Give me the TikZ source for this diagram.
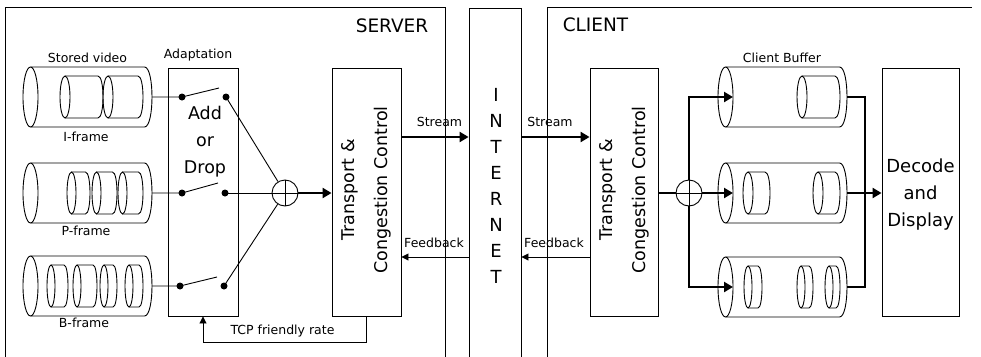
\documentclass[tikz,border=0pt]{standalone}
\usepackage{fontspec}
\setmainfont{DejaVu Sans}
\usetikzlibrary{arrows.meta}
\tikzset{
  thinline/.style={line width=0.9pt},
  thickline/.style={line width=2.8pt},
  thickarrow/.style={line width=2.8pt,-{Triangle[length=9pt,width=10pt]}},
  thinarrow/.style={line width=0.9pt,-{Triangle[length=7pt,width=7pt]}},
  cylline/.style={line width=0.9pt},
  blockbox/.style={draw,line width=0.9pt,minimum height=248pt,inner sep=0pt},
  swdot/.style={circle,fill=black,minimum size=7pt,inner sep=0pt},
  opl/.style={circle,draw,line width=0.9pt,minimum size=26pt,inner sep=0pt},
  smalltext/.style={font=\fontsize{12.5}{15}\selectfont,inner sep=0pt},
  bigtext/.style={font=\fontsize{17.5}{27}\selectfont,inner sep=0pt,align=center},
  titletext/.style={font=\fontsize{18.5}{22}\selectfont,inner sep=0pt}
}
\newcommand\mycyl[5]{%
  \draw[cylline] (#1,#3) ellipse ({#5} and {#4});
  \draw[cylline] (#1,{#3-#4}) -- (#2,{#3-#4}) .. controls ({#2+1.333*#5},{#3-#4}) and ({#2+1.333*#5},{#3+#4}) .. (#2,{#3+#4}) -- (#1,{#3+#4});
}
\begin{document}
\begin{tikzpicture}[x=1pt,y=-1pt]
\useasboundingbox (0,0) rectangle (981,356);
\clip (0,0) rectangle (981,356);
% frames
\draw[thinline] (5,360) -- (5,7) -- (445,7) -- (445,360);
\draw[thinline] (547,360) -- (547,7) -- (972,7);
\node[titletext] (srv) at (392,26) {SERVER};
\node[titletext] (cli) at (595.5,25) {CLIENT};
% internet
\node[draw,line width=0.9pt,minimum width=52pt,minimum height=360pt,inner sep=0pt] (inet) at (495,188) {};
\node[font=\fontsize{18}{26}\selectfont,align=center,inner sep=0pt] (inettxt) at (496,186) {I\\N\\T\\E\\R\\N\\E\\T};
% server cylinders
\mycyl{30.5}{144.5}{97}{30}{7.5}
\mycyl{65}{98}{97}{21}{5}
\mycyl{108}{138}{97}{21}{5}
\mycyl{30.5}{144.5}{193}{30}{7.5}
\mycyl{71.5}{85.5}{193}{21}{4.5}
\mycyl{96.5}{112.5}{193}{21}{4.5}
\mycyl{122.5}{138.5}{193}{21}{4.5}
\mycyl{30.5}{144.5}{286}{30}{7.5}
\mycyl{51}{64}{286}{21}{4}
\mycyl{77}{93}{286}{21}{4}
\mycyl{104}{113}{286}{21}{4}
\mycyl{129}{139}{286}{21}{4}
\coordinate (Iout) at (152,97);
\coordinate (Pout) at (152,193);
\coordinate (Bout) at (152,286);
\node[smalltext] (stv) at (87.5,58) {Stored video};
\node[smalltext] (ifr) at (86,137) {I-frame};
\node[smalltext] (pfr) at (86,231) {P-frame};
\node[smalltext] (bfr) at (84,323) {B-frame};
% adaptation
\node[blockbox,minimum width=70pt] (adapt) at (203,192) {};
\node[smalltext] (adlab) at (198,55) {Adaptation};
\node[bigtext] (addrop) at (205,142) {Add\\or\\Drop};
% switches
\node[swdot] (IL) at (182,97) {};
\node[swdot] (IR) at (226,97) {};
\coordinate (Ia) at (219,88);
\node[swdot] (PL) at (182,193) {};
\node[swdot] (PR) at (225,193) {};
\coordinate (Pa) at (218,183);
\node[swdot] (BL) at (180,286) {};
\node[swdot] (BR) at (224,286) {};
\coordinate (Ba) at (217,277);
\draw[thinline] (Iout) -- (IL.center) -- (Ia);
\draw[thinline] (Pout) -- (PL.center) -- (Pa);
\draw[thinline] (Bout) -- (BL.center) -- (Ba);
\node[opl] (sop) at (285,193) {};
\draw[thinline] (sop.north) -- (sop.south) (sop.west) -- (sop.east);
\draw[thinline] (IR.center) -- (sop);
\draw[thinline] (PR.center) -- (sop);
\draw[thinline] (BR.center) -- (sop);
% server transport
\node[blockbox,minimum width=69pt] (stc) at (366.5,192) {};
\node[bigtext,rotate=90,font=\fontsize{17.5}{33}\selectfont] (stctxt) at (366.5,190) {Transport \&\\Congestion Control};
\draw[thickarrow] (sop.east) -- (sop -| stc.west);
\coordinate (s1) at (0,137);
\coordinate (f1) at (0,257);
\draw[thickarrow] (stc.east |- s1) -- (inet.west |- s1);
\draw[thinarrow] (inet.west |- f1) -- (stc.east |- f1);
\node[smalltext] (sst) at (439.5,122) {Stream};
\node[smalltext] (sfb) at (434,243) {Feedback};
% TCP friendly rate
\draw[thinarrow] (stc.south) -- ++(0,26) -| (adapt.south);
\node[smalltext] (tcp) at (282.5,331) {TCP friendly rate};
% client transport
\node[blockbox,minimum width=68pt] (ctc) at (624,192) {};
\node[bigtext,rotate=90,font=\fontsize{17.5}{33}\selectfont] (ctctxt) at (624,190) {Transport \&\\Congestion Control};
\draw[thickarrow] (inet.east |- s1) -- (ctc.west |- s1);
\draw[thinarrow] (ctc.west |- f1) -- (inet.east |- f1);
\node[smalltext] (cst) at (550,122) {Stream};
\node[smalltext] (cfb) at (554,243) {Feedback};
% client buffer
\mycyl{725.5}{839.5}{97}{30}{7.5}
\mycyl{802}{835}{97}{21}{5}
\mycyl{725.5}{839.5}{193}{30}{7.5}
\mycyl{748}{765}{193}{21}{5}
\mycyl{818}{835}{193}{21}{5}
\mycyl{725.5}{839.5}{287}{30}{7.5}
\mycyl{748}{758}{287}{21}{4}
\mycyl{801}{809}{287}{21}{4}
\mycyl{829}{836}{287}{21}{4}
\node[smalltext] (cbuf) at (782,58) {Client Buffer};
\coordinate (ctA) at (733,97);
\coordinate (cmA) at (733,193);
\coordinate (cbA) at (733,287);
\coordinate (ctR) at (847,97);
\coordinate (cmR) at (847,193);
\coordinate (cbR) at (847,287);
\node[opl] (cop) at (689,193) {};
\draw[thinline] (cop.north) -- (cop.south) (cop.west) -- (cop.east);
\draw[thickline] (ctc.east |- cop) -- (cop.west);
\draw[thickarrow] (cop.east) -- (cmA);
\draw[thickarrow] (cop.north) -- (cop.north |- ctA) -- (ctA);
\draw[thickarrow] (cop.south) -- (cop.south |- cbA) -- (cbA);
% decode
\node[blockbox,minimum width=77pt] (dec) at (920.5,192) {};
\node[bigtext,font=\fontsize{18}{27}\selectfont] (dectxt) at (920.5,195) {Decode\\and\\Display};
\draw[thickline] (ctR) -- (865,97) -- (865,287) -- (cbR);
\draw[thickarrow] (cmR) -- (cmR -| dec.west);
\end{tikzpicture}
\end{document}
